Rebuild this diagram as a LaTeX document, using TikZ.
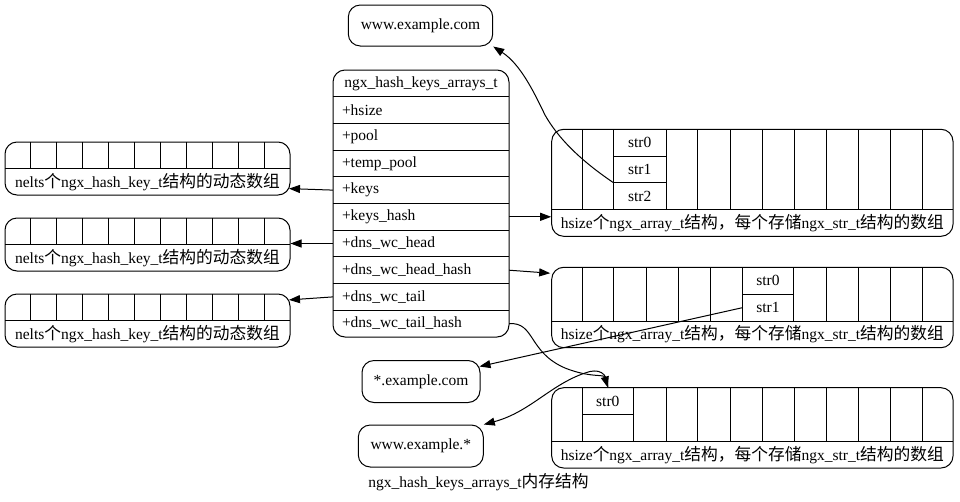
\documentclass[tikz,border=0pt]{standalone}
\usepackage{fontspec}
\setmainfont{Liberation Serif}
\newfontfamily\cjk[Scale=1.08]{Noto Sans CJK SC}
\usepackage{xcolor}
\usepackage{tikz}
\usetikzlibrary{arrows.meta,calc}
\definecolor{GVInk}{HTML}{000000}
\definecolor{GVPaper}{HTML}{FFFFFF}
\newcommand{\gvsize}{\fontsize{15.5}{18}\selectfont}
\tikzset{
  gvbox/.style={draw=GVInk,line width=1pt,rounded corners=12pt,inner sep=0pt},
  gvline/.style={draw=GVInk,line width=1pt},
  gvtext/.style={inner sep=0pt,font=\gvsize,text=GVInk},
  gvfield/.style={gvtext,text width=158pt,align=left,inner xsep=9pt,minimum height=26.7pt},
  gvcell/.style={gvtext,minimum height=26.7pt},
  gvhost/.style={gvbox,gvtext,rounded corners=12pt,draw=GVInk,line width=1pt},
  gvedge/.style={draw=GVInk,line width=1pt,-{Triangle[length=11pt,width=8pt]}},
}

\begin{document}
\begin{tikzpicture}[x=1pt,y=-1pt]
\path[use as bounding box] (0,0) rectangle (960,501);
\fill[GVPaper] (0,0) rectangle (960,501);

\node[gvhost,minimum width=144.4pt,minimum height=41pt] (wwwcom) at (420.5,25.5) {www.example.com};
\node[gvhost,minimum width=118pt,minimum height=42pt] (starcom) at (421,381.5) {*.example.com};
\node[gvhost,minimum width=125pt,minimum height=42pt] (wwwstar) at (420.8,446) {www.example.*};

\node[gvbox,minimum width=176pt,minimum height=267pt] (hka) at (421,203.5) {};
\draw[gvline] (333,96.7) -- (509,96.7) (333,123.4) -- (509,123.4) (333,150.1) -- (509,150.1)
  (333,176.8) -- (509,176.8) (333,203.5) -- (509,203.5) (333,230.2) -- (509,230.2)
  (333,256.9) -- (509,256.9) (333,283.6) -- (509,283.6) (333,310.3) -- (509,310.3);
\node[gvtext] (hkaT) at (421,83.35) {ngx\_hash\_keys\_arrays\_t};
\node[gvfield] (hsize) at (421,110) {+hsize};
\node[gvfield] (pool) at (421,136.7) {+pool};
\node[gvfield] (temppool) at (421,163.4) {+temp\_pool};
\node[gvfield] (keys) at (421,190.1) {+keys};
\node[gvfield] (keyshash) at (421,216.8) {+keys\_hash};
\node[gvfield] (dnswchead) at (421,243.5) {+dns\_wc\_head};
\node[gvfield] (dnswcheadhash) at (421,270.2) {+dns\_wc\_head\_hash};
\node[gvfield] (dnswctail) at (421,296.9) {+dns\_wc\_tail};
\node[gvfield] (dnswctailhash) at (421,323.6) {+dns\_wc\_tail\_hash};

\node[gvbox,minimum width=285pt,minimum height=53pt] (keysarr) at (147.5,168.5) {};
\draw[gvline] (5,168.5) -- (290,168.5)
  (30.9,142) -- ++(0,26.5) (56.8,142) -- ++(0,26.5) (82.7,142) -- ++(0,26.5) (108.6,142) -- ++(0,26.5)
  (134.5,142) -- ++(0,26.5) (160.4,142) -- ++(0,26.5) (186.3,142) -- ++(0,26.5) (212.2,142) -- ++(0,26.5)
  (238.1,142) -- ++(0,26.5) (264,142) -- ++(0,26.5);
\node[gvtext] (keysarrL) at (147.5,181.75) {nelts{\cjk 个}ngx\_hash\_key\_t{\cjk 结构的动态数组}};

\node[gvbox,minimum width=285pt,minimum height=53pt] (headarr) at (147.5,244.5) {};
\draw[gvline] (5,244.5) -- (290,244.5)
  (30.9,218) -- ++(0,26.5) (56.8,218) -- ++(0,26.5) (82.7,218) -- ++(0,26.5) (108.6,218) -- ++(0,26.5)
  (134.5,218) -- ++(0,26.5) (160.4,218) -- ++(0,26.5) (186.3,218) -- ++(0,26.5) (212.2,218) -- ++(0,26.5)
  (238.1,218) -- ++(0,26.5) (264,218) -- ++(0,26.5);
\node[gvtext] (headarrL) at (147.5,257.75) {nelts{\cjk 个}ngx\_hash\_key\_t{\cjk 结构的动态数组}};

\node[gvbox,minimum width=285pt,minimum height=53pt] (tailarr) at (147.5,320.5) {};
\draw[gvline] (5,320.5) -- (290,320.5)
  (30.9,294) -- ++(0,26.5) (56.8,294) -- ++(0,26.5) (82.7,294) -- ++(0,26.5) (108.6,294) -- ++(0,26.5)
  (134.5,294) -- ++(0,26.5) (160.4,294) -- ++(0,26.5) (186.3,294) -- ++(0,26.5) (212.2,294) -- ++(0,26.5)
  (238.1,294) -- ++(0,26.5) (264,294) -- ++(0,26.5);
\node[gvtext] (tailarrL) at (147.5,333.75) {nelts{\cjk 个}ngx\_hash\_key\_t{\cjk 结构的动态数组}};

\node[gvbox,minimum width=401.3pt,minimum height=107pt] (khA) at (752.35,182.8) {};
\draw[gvline] (551.7,209.3) -- (953,209.3)
  (582.3,129.3) -- ++(0,80) (613.3,129.3) -- ++(0,80) (666,129.3) -- ++(0,80) (697.7,129.3) -- ++(0,80)
  (730,129.3) -- ++(0,80) (762.3,129.3) -- ++(0,80) (794,129.3) -- ++(0,80) (826,129.3) -- ++(0,80)
  (858.3,129.3) -- ++(0,80) (890,129.3) -- ++(0,80) (922.3,129.3) -- ++(0,80)
  (613.3,156) -- (666,156) (613.3,182.7) -- (666,182.7);
\node[gvcell,minimum width=52.7pt] (kh0) at (639.65,142.65) {str0};
\node[gvcell,minimum width=52.7pt] (kh1) at (639.65,169.35) {str1};
\node[gvcell,minimum width=52.7pt] (kh2) at (639.65,196) {str2};
\node[gvtext] (khAL) at (752.35,222.8) {hsize{\cjk 个}ngx\_array\_t{\cjk 结构，每个存储}ngx\_str\_t{\cjk 结构的数组}};

\node[gvbox,minimum width=401.3pt,minimum height=80.4pt] (hhA) at (752.35,307.5) {};
\draw[gvline] (551.7,321) -- (953,321)
  (582.3,267.3) -- ++(0,53.7) (613.3,267.3) -- ++(0,53.7) (646,267.3) -- ++(0,53.7) (678.3,267.3) -- ++(0,53.7)
  (710.7,267.3) -- ++(0,53.7) (742.7,267.3) -- ++(0,53.7) (793.3,267.3) -- ++(0,53.7) (826,267.3) -- ++(0,53.7)
  (858.3,267.3) -- ++(0,53.7) (890,267.3) -- ++(0,53.7) (922.3,267.3) -- ++(0,53.7)
  (742.7,294.3) -- (793.3,294.3);
\node[gvcell,minimum width=50.6pt,minimum height=27pt] (hh0) at (768,280.8) {str0};
\node[gvcell,minimum width=50.6pt] (hh1) at (768,307.65) {str1};
\node[gvtext] (hhAL) at (752.35,334.35) {hsize{\cjk 个}ngx\_array\_t{\cjk 结构，每个存储}ngx\_str\_t{\cjk 结构的数组}};

\node[gvbox,minimum width=401.3pt,minimum height=80.3pt] (thA) at (752.35,427.85) {};
\draw[gvline] (551.7,441.3) -- (953,441.3)
  (582.3,387.7) -- ++(0,53.6) (633.3,387.7) -- ++(0,53.6) (666,387.7) -- ++(0,53.6) (697.7,387.7) -- ++(0,53.6)
  (730,387.7) -- ++(0,53.6) (762.3,387.7) -- ++(0,53.6) (794,387.7) -- ++(0,53.6) (826,387.7) -- ++(0,53.6)
  (858.3,387.7) -- ++(0,53.6) (890,387.7) -- ++(0,53.6) (922.3,387.7) -- ++(0,53.6)
  (582.3,414.5) -- (633.3,414.5);
\node[gvcell,minimum width=51pt,minimum height=26.8pt] (th0) at (607.8,401.1) {str0};
\node[gvtext] (thAL) at (752.35,454.65) {hsize{\cjk 个}ngx\_array\_t{\cjk 结构，每个存储}ngx\_str\_t{\cjk 结构的数组}};

\node[gvtext] (cap) at (478.5,482) {ngx\_hash\_keys\_arrays\_t{\cjk 内存结构}};

\draw[gvedge] (keys.west) -- ($(keys.west -| keysarr.east)+(-1.5,-1.5)$);
\draw[gvedge] (dnswchead.west) -- (dnswchead.west -| headarr.east);
\draw[gvedge] (dnswctail.west) -- ($(dnswctail.west -| tailarr.east)+(-1.5,3)$);
\draw[gvedge] (keyshash.east) -- (keyshash.east -| khA.west);
\draw[gvedge] (dnswcheadhash.east) -- ($(dnswcheadhash.east -| hhA.west)+(-1,3)$);
\draw[gvedge] (kh2.north west) .. controls (580,160) and (558,138) .. (545,115) .. controls (533,90) and (520,64) .. (wwwcom.south east);
\draw[gvedge] (hh1.west) -- ($(starcom.east)+(-1,-15)$);
\draw[gvedge] (dnswctailhash.east) .. controls (535,322) and (528,352) .. (565,368) .. controls (590,378) and (604,374) .. (th0.north);
\draw[gvedge] (th0.north) .. controls (608,372) and (598,368) .. (585,373) .. controls (550,385) and (530,412) .. (wwwstar.north east);
\end{tikzpicture}
\end{document}
